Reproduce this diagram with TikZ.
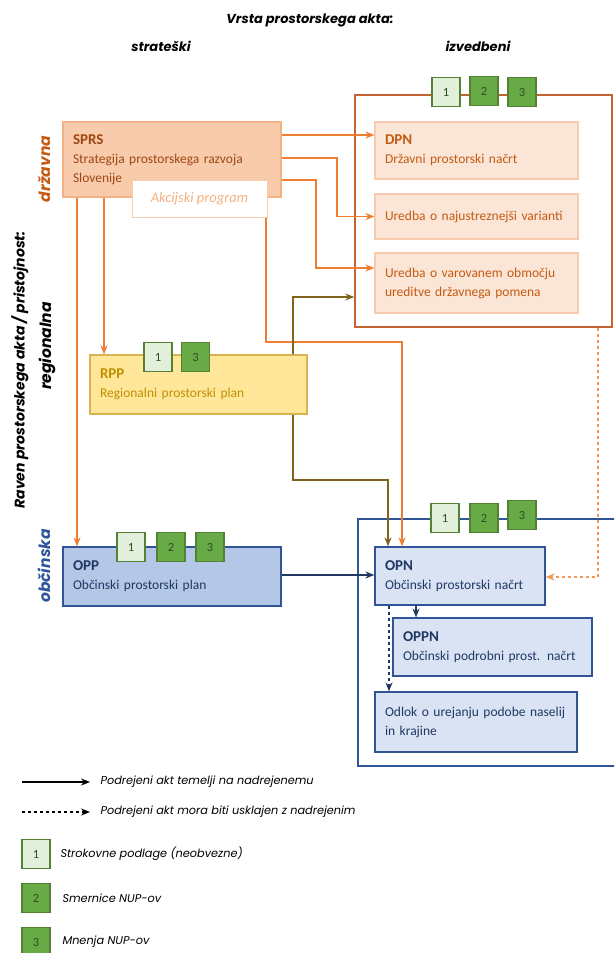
\documentclass[tikz,border=0pt]{standalone}
\usepackage{fontspec}
\setmainfont{Carlito}
\newfontfamily\headfont{Poppins}
\usepackage{tikz}
\usetikzlibrary{arrows, arrows.meta, positioning}
\definecolor{drzfill}{RGB}{248,203,173}
\definecolor{drzlight}{RGB}{251,229,214}
\definecolor{drzline}{RGB}{244,177,131}
\definecolor{drzdark}{RGB}{197,90,17}
\definecolor{drzframe}{RGB}{196,100,50}
\definecolor{drzarrow}{RGB}{237,125,49}
\definecolor{regfill}{RGB}{255,230,153}
\definecolor{regline}{RGB}{214,180,80}
\definecolor{regtext}{RGB}{191,144,0}
\definecolor{regarrow}{RGB}{128,100,30}
\definecolor{obcfill}{RGB}{180,199,231}
\definecolor{obclight}{RGB}{218,227,243}
\definecolor{obcline}{RGB}{47,85,151}
\definecolor{obctext}{RGB}{31,56,100}
\definecolor{sqlight}{RGB}{226,239,218}
\definecolor{sqdark}{RGB}{104,170,70}
\definecolor{sqline}{RGB}{84,130,53}
\tikzstyle{head} = [font=\headfont\fontsize{13}{13}\selectfont\bfseries\itshape]
\tikzstyle{level} = [rotate=90, font=\headfont\fontsize{15.5}{15}\selectfont\bfseries\itshape]
\tikzstyle{akt} = [rectangle, draw, line width=1.2pt, align=left, inner xsep=10pt, font=\fontsize{13.5}{19}\selectfont]
\tikzstyle{frame} = [rectangle, draw, line width=1.5pt]
\tikzstyle{sqone} = [rectangle, draw=sqline, fill=sqlight, line width=1.2pt, minimum width=28pt, minimum height=29pt, inner sep=0pt, text=sqline!60!black, font=\fontsize{12.5}{12}\selectfont]
\tikzstyle{sqtwo} = [sqone, fill=sqdark]
\tikzstyle{arrow} = [->,>={Stealth[length=9pt,width=7pt]}, line width=1.3pt]
\tikzstyle{dasharrow} = [arrow, dashed]
\tikzstyle{legend} = [anchor=west, font=\headfont\fontsize{11.3}{13}\selectfont\itshape]

\begin{document}
\begin{tikzpicture}[x=1pt, y=-1pt]
\useasboundingbox (0,0) rectangle (614,953);
\clip (0,0) rectangle (614,953);

\node[head] (vrsta) at (310,20) {Vrsta prostorskega akta:};
\node[head] (strat) at (161,46) {strateški};
\node[head] (izved) at (478,46) {izvedbeni};
\node[level, text=drzdark] (drz) at (44,169) {državna};
\node[level, font=\headfont\fontsize{14}{14}\selectfont\bfseries\itshape] (raven) at (20,370) {Raven prostorskega akta / pristojnost:};
\node[level] (reg) at (47,346) {regionalna};
\node[level, text=obcline] (obc) at (44,566) {občinska};

\node[frame, draw=drzframe, minimum width=257pt, minimum height=232pt] (izvdrz) at (483.5,211) {};
\node[frame, draw=obcline, minimum width=262pt, minimum height=247pt] (izvobc) at (489,642.5) {};

\node[akt, fill=drzfill, draw=drzline, text=drzdark!80!black, text width=198pt, minimum height=75pt] (sprs) at (172,159.5) {\textbf{\fontsize{15}{19}\selectfont SPRS}\\Strategija prostorskega razvoja\\Slovenije};
\node[rectangle, draw=drzfill, fill=white, line width=1pt, minimum width=135pt, minimum height=37pt, text=drzline, font=\fontsize{14.5}{14}\selectfont\itshape] (akc) at (199.5,198.5) {Akcijski program};

\node[akt, fill=drzlight, draw=drzfill, text=drzdark, text width=183pt, minimum height=57pt] (dpn) at (476.5,150.5) {\textbf{\fontsize{15}{19}\selectfont DPN}\\Državni prostorski načrt};
\node[akt, fill=drzlight, draw=drzfill, text=drzdark, text width=183pt, minimum height=45pt] (urednaj) at (476.5,216.5) {Uredba o najustreznejši varianti};
\node[akt, fill=drzlight, draw=drzfill, text=drzdark, text width=183pt, minimum height=60pt] (uredvar) at (476.5,283) {Uredba o varovanem območju\\ureditve državnega pomena};

\node[akt, fill=regfill, draw=regline, text=regtext, text width=197pt, minimum height=59pt] (rpp) at (198.5,384.5) {\textbf{\fontsize{15}{19}\selectfont RPP}\\Regionalni prostorski plan};

\node[akt, fill=obcfill, draw=obcline, text=obctext, text width=198pt, minimum height=59pt] (opp) at (172,576.5) {\textbf{\fontsize{15}{19}\selectfont OPP}\\Občinski prostorski plan};
\node[akt, fill=obclight, draw=obcline, text=obctext, text width=150pt, minimum height=58pt] (opn) at (460,576) {\textbf{\fontsize{15}{19}\selectfont OPN}\\Občinski prostorski načrt};
\node[akt, fill=obclight, draw=obcline, text=obctext, text width=179pt, minimum height=58pt] (oppn) at (492.5,647) {\textbf{\fontsize{15}{19}\selectfont OPPN}\\Občinski podrobni prost. načrt};
\node[akt, fill=obclight, draw=obcline, text=obctext, text width=182pt, minimum height=60pt] (odlok) at (476,722) {Odlok o urejanju podobe naselij\\in krajine};

\node[sqone] (drz1) at (446,92) {1};
\node[sqtwo] (drz2) at (484,91) {2};
\node[sqtwo] (drz3) at (522,92) {3};
\node[sqone] (reg1) at (158,357) {1};
\node[sqtwo] (reg3) at (195.5,357) {3};
\node[sqone] (opp1) at (131,547) {1};
\node[sqtwo] (opp2) at (171,547) {2};
\node[sqtwo] (opp3) at (210,547) {3};
\node[sqone] (obc1) at (445,518) {1};
\node[sqtwo] (obc2) at (484,518) {2};
\node[sqtwo] (obc3) at (522,515) {3};

\draw[arrow, drzarrow] (sprs.east |- 0,135) -- (dpn.west |- 0,135);
\draw[arrow, drzarrow] (sprs.east |- 0,158) -| (337,216.5) -- (urednaj.west);
\draw[arrow, drzarrow] (sprs.east |- 0,180) -| (316,268) -- (uredvar.west |- 0,268);
\draw[arrow, drzarrow] (sprs.south -| 104,0) -- (rpp.north -| 104,0);
\draw[arrow, drzarrow] (sprs.south -| 77,0) -- (opp.north -| 77,0);
\draw[arrow, drzarrow] (akc.south -| 266,0) |- (402,342) -- (opn.north -| 402,0);
\draw[arrow, regarrow] (rpp.north -| 293,0) |- (izvdrz.west |- 0,297);
\draw[arrow, regarrow] (rpp.south -| 293,0) |- (388,480) -- (opn.north -| 388,0);
\draw[arrow, obctext] (opp.east |- 0,575) -- (opn.west |- 0,575);
\draw[arrow, obctext] (opn.south -| 416,0) -- (oppn.north -| 416,0);
\draw[dasharrow, obctext] (opn.south -| 389,0) -- (odlok.north -| 389,0);
\draw[dasharrow, drzarrow!80] (izvdrz.south -| 598,0) |- (opn.east |- 0,577);

\coordinate (lgA1) at (22,782);
\coordinate (lgA2) at (90,782);
\coordinate (lgB1) at (22,812);
\coordinate (lgB2) at (90,812);
\draw[arrow] (lgA1) -- (lgA2);
\draw[dasharrow] (lgB1) -- (lgB2);
\node[legend] (lgAtext) at (97,782) {Podrejeni akt temelji na nadrejenemu};
\node[legend] (lgBtext) at (97,812) {Podrejeni akt mora biti usklajen z nadrejenim};
\node[sqone] (lg1) at (36,854) {1};
\node[sqtwo] (lg2) at (36,898) {2};
\node[sqtwo] (lg3) at (36,942) {3};
\node[legend] (lg1text) at (57,854) {Strokovne podlage (neobvezne)};
\node[legend] (lg2text) at (59,898) {Smernice NUP-ov};
\node[legend] (lg3text) at (59,942) {Mnenja NUP-ov};
\end{tikzpicture}
\end{document}
